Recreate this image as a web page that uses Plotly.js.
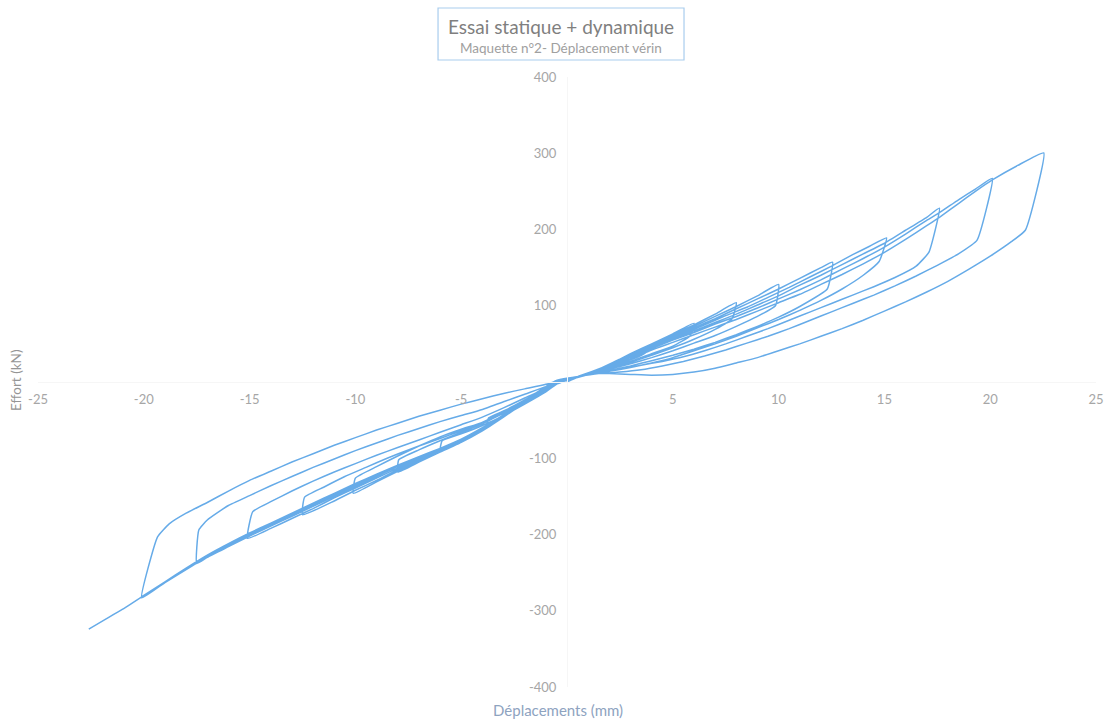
<!DOCTYPE html>
<html>
<head>
<meta charset="utf-8">
<script src="https://cdn.plot.ly/plotly-3.0.1.min.js"></script>
<style>
  html, body { margin: 0; padding: 0; background: #ffffff; }
  #chart { width: 1109px; height: 719px; }
</style>
</head>
<body>
<div id="chart"></div>
<script>
// Cyclic test, actuator displacement (mm) vs force (kN).
// Each cycle: loading to the positive peak, small drop, return through the
// pinch, loading to the negative peak, small unload.
const disp1 = [0, 0.5, 1.5, 2.5, 3, 3.8, 3.7, 3, 2, 1, 0.5, -0.5, -1, -2, -3, -3.8, -3.7];
const force1 = [0, 6, 17, 30, 36, 47, 38, 29, 20, 12, 7, 1, -9, -27, -45, -58, -47];

const disp2 = [-3, -2, -1, -0.5, 0.5, 1.5, 2.5, 3, 4, 5, 6, 5.8, 5, 4, 3, 2, 1, 0.5, -0.5, -1, -2, -3, -4, -5, -6, -5.9];
const force2 = [-38, -25, -11, -3, 7, 17, 30, 37, 50, 63, 77, 60, 47, 37, 27, 19, 12, 7, 1, -9, -27, -46, -64, -79, -91, -77];

const disp3 = [-5, -4, -3, -2, -1, -0.5, 0.5, 1.5, 2.5, 3, 4, 5, 6, 7, 8, 7.8, 7, 6, 5, 4, 3, 2, 1, 0.5, -0.5, -1, -2, -3, -4, -5, -6, -7, -8, -7.95];
const force3 = [-68, -57, -44, -29, -13, -3, 7, 17, 30, 37, 50, 62, 75, 89, 104, 83, 69, 56, 45, 35, 26, 18, 11, 7, 1, -9, -27, -46, -64, -79, -92, -105, -118, -102];

const disp4 = [-7, -6, -5, -4, -3, -2, -1, -0.5, 0.5, 1.5, 2.5, 3, 4, 5, 6, 7, 8, 9, 10, 9.85, 9, 8, 7, 6, 5, 4, 3, 2, 1, 0.5, -0.5, -1, -2, -3, -4, -5, -6, -7, -8, -9, -10.1, -10];
const force4 = [-89, -77, -66, -55, -41, -27, -12, -2, 7, 17, 30, 36, 48, 61, 73, 86, 99, 113, 128, 100, 86, 73, 61, 51, 41, 32, 24, 17, 11, 7, 1, -9, -27, -46, -64, -78, -91, -104, -117, -131, -146, -126];

const disp5 = [-9, -8, -7, -6, -5, -4, -3, -2, -1, -0.5, 0.5, 1.5, 2.5, 3, 4, 5, 6, 7, 8, 9, 10, 11, 12, 12.55, 12.3, 11, 10, 9, 8, 7, 6, 5, 4, 3, 2, 1, 0.5, -0.5, -1, -2, -3, -4, -5, -6, -7, -8, -9, -10, -11, -12.5, -12.4];
const force5 = [-111, -97, -84, -72, -62, -53, -40, -26, -11, 0, 7, 16, 29, 35, 47, 59, 71, 83, 96, 109, 122, 136, 150, 157, 122, 99, 85, 73, 62, 52, 43, 35, 28, 21, 15, 10, 7, 2, -8, -26, -45, -63, -78, -91, -103, -115, -129, -142, -156, -174, -151];

const disp6 = [-11.5, -10.5, -9.5, -8.5, -7.5, -6.5, -5.5, -4.5, -3.5, -2.5, -1.5, -0.5, 0.5, 1.5, 2.5, 3.5, 4.5, 5.5, 6.5, 7.5, 8.5, 9.5, 10.5, 11.5, 12.5, 13.5, 14.3, 15.1, 14.75, 14, 13, 12, 11, 10, 9, 8, 7, 6, 5, 4, 3, 2, 1, 0.5, -0.5, -1, -2, -3, -4, -5, -6, -7, -8, -9, -10, -11, -12, -13, -14, -15.1, -14.85];
const force6 = [-138, -124, -112, -100, -89, -79, -69, -59, -46, -31, -16, 0, 7, 16, 28, 40, 51, 63, 75, 87, 98, 111, 124, 138, 152, 167, 178, 189, 158, 140, 122, 107, 94, 82, 71, 60, 50, 41, 32, 25, 19, 14, 10, 7, 2, -8, -26, -45, -62, -77, -90, -101, -113, -126, -139, -152, -166, -179, -192, -205, -170];

const disp7 = [-14, -13, -12, -11, -10, -9, -8, -7, -6, -5, -4, -3, -2, -1, -0.5, 0.5, 1.5, 2.5, 3, 4, 5, 6, 7, 8, 9, 10, 11, 12, 13, 14, 15, 16, 17, 17.6, 17.1, 16.5, 15.5, 14.5, 13.5, 12.5, 11.5, 10.5, 9.5, 8.5, 7.5, 6.5, 5.5, 4.5, 3.5, 2.5, 1.5, 0.5, -0.5, -1, -2, -3, -4, -5, -6, -7, -8, -9, -10, -11, -12, -13, -14, -15, -16, -17, -17.5, -17.4];
const force7 = [-157, -143, -130, -118, -107, -96, -86, -76, -66, -56, -46, -34, -21, -8, 0, 7, 15, 27, 33, 45, 56, 67, 78, 89, 101, 113, 127, 140, 154, 168, 182, 199, 216, 228, 170, 152, 137, 125, 114, 103, 92, 81, 70, 60, 50, 41, 33, 27, 22, 17, 13, 7, 2, -7, -25, -44, -62, -77, -89, -100, -111, -124, -137, -150, -163, -176, -189, -202, -216, -230, -238, -194];

const disp8 = [-17, -16.5, -16, -15, -14, -13, -12, -11, -10, -9, -8, -7, -6, -5, -4, -3, -2, -1, -0.5, 0.5, 1.5, 2.5, 3, 4, 5, 6, 7, 8, 9, 10, 11, 12, 13, 14, 15, 16, 17, 17.6, 18.5, 19.3, 20.1, 19.38, 18.5, 17.5, 16.5, 15.5, 14.5, 13.5, 12.5, 11.5, 10.5, 9.5, 8.5, 7.5, 6.5, 5.5, 4.5, 3.5, 2.5, 1.5, 0.5, -0.5, -1, -2, -3, -4, -5, -6, -7, -8, -9, -10, -11, -12, -13, -14, -15, -16, -17, -18, -19, -20.1, -19.35];
const force8 = [-181, -171, -162, -149, -136, -124, -112, -101, -90, -80, -70, -61, -52, -44, -36, -26, -16, -6, 0, 6, 15, 26, 32, 44, 55, 65, 76, 86, 97, 109, 121, 134, 148, 162, 177, 194, 212, 222, 239, 253, 267, 186, 168, 153, 139, 126, 114, 103, 92, 81, 70, 60, 51, 42, 34, 27, 21, 16, 13, 11, 7, 2, -7, -25, -44, -61, -76, -88, -99, -110, -122, -135, -148, -161, -174, -187, -200, -214, -229, -246, -263, -283, -203];

const disp9 = [-18.8, -18, -17, -16, -15, -14, -13, -12, -11, -10, -9, -8, -7, -6, -5, -4, -3, -2, -1, -0.5, 0.5, 1.5, 2.5, 3, 4, 5, 6, 7, 8, 9, 10, 11, 12, 13, 14, 15, 16, 17, 17.6, 18.5, 19.3, 20.1, 21.3, 22.53, 21.66, 21, 20, 19, 18, 17, 16, 15, 14, 13, 12, 11, 10, 9, 8, 7, 6, 5, 4, 3, 2, 1.5, 0.5, -0.5, -1, -2, -3, -4, -5, -6, -7, -8, -9, -10, -11, -12, -13, -14, -15, -16, -17, -18, -19, -20, -21, -21.8, -22.6];
const force9 = [-186, -172, -158, -143, -129, -117, -105, -94, -83, -73, -63, -54, -45, -37, -29, -22, -15, -9, -3, 1, 6, 14, 24, 30, 42, 52, 62, 72, 82, 93, 104, 115, 128, 141, 155, 170, 187, 205, 216, 234, 250, 265, 284, 300.5, 199, 184, 165, 148, 132, 118, 105, 93, 81, 70, 60, 50, 41, 32, 25, 18, 13, 10, 9, 10, 11, 11, 7, 2, -6, -24, -43, -60, -75, -87, -98, -109, -121, -133, -146, -159, -172, -185, -198, -212, -227, -244, -262, -280, -298, -311, -324];

// Axis ticks (zero left unlabelled at the crossing)
const xTicks = [-25, -20, -15, -10, -5, 5, 10, 15, 20, 25];
const xTickText = ['-25', '-20', '-15', '-10', '-5', '5', '10', '15', '20', '25'];
const yTicks = [-400, -300, -200, -100, 100, 200, 300, 400];
const yTickText = ['-400', '-300', '-200', '-100', '100', '200', '300', '400'];

const dispCycles = [disp1, disp2, disp3, disp4, disp5, disp6, disp7, disp8, disp9];
const forceCycles = [force1, force2, force3, force4, force5, force6, force7, force8, force9];

const trace = {
  type: 'scatter',
  mode: 'lines',
  x: [].concat(...dispCycles),
  y: [].concat(...forceCycles),
  line: { color: '#66abe8', width: 1.5, shape: 'spline', smoothing: 0.4 },
  hoverinfo: 'x+y',
  showlegend: false
};

const FONT = 'Lato, "Open Sans", "DejaVu Sans", sans-serif';

const layout = {
  width: 1109,
  height: 719,
  margin: { l: 38, r: 13, t: 77, b: 32, pad: 0 },
  paper_bgcolor: '#ffffff',
  plot_bgcolor: '#ffffff',
  font: { family: FONT, color: '#a6a6a6', size: 12 },
  xaxis: {
    range: [-25, 25],
    anchor: 'free',
    position: 0.5,
    tickvals: xTicks,
    ticktext: xTickText,
    ticks: '',
    ticklabelstandoff: 5,
    tickfont: { family: FONT, size: 13, color: '#a6a6a6' },
    showgrid: false,
    zeroline: false,
    showline: true,
    linecolor: '#f6f6f6',
    linewidth: 1
  },
  yaxis: {
    range: [-400, 400],
    anchor: 'free',
    position: 0.5,
    tickvals: yTicks,
    ticktext: yTickText,
    ticks: '',
    ticklabelstandoff: 8,
    tickfont: { family: FONT, size: 13, color: '#a6a6a6' },
    showgrid: false,
    zeroline: false,
    showline: true,
    linecolor: '#f6f6f6',
    linewidth: 1
  },
  shapes: [
    // frame around the chart title block
    {
      type: 'rect',
      xref: 'paper', yref: 'paper',
      x0: 0.3781, x1: 0.6106,
      y0: 1.0279, y1: 1.1131,
      line: { color: '#a9cdee', width: 1.2 },
      fillcolor: 'rgba(0,0,0,0)'
    }
  ],
  annotations: [
    {
      xref: 'paper', yref: 'paper',
      x: 0.4943, y: 1.0820,
      xanchor: 'center', yanchor: 'middle',
      showarrow: false,
      text: 'Essai statique + dynamique',
      font: { family: FONT, size: 19, color: '#7f7f7f' }
    },
    {
      xref: 'paper', yref: 'paper',
      x: 0.4943, y: 1.0475,
      xanchor: 'center', yanchor: 'middle',
      showarrow: false,
      text: 'Maquette n°2- Déplacement vérin',
      font: { family: FONT, size: 13.5, color: '#a0a0a0' }
    },
    {
      xref: 'paper', yref: 'paper',
      x: -0.0208, y: 0.5033,
      xanchor: 'center', yanchor: 'middle',
      showarrow: false,
      textangle: -90,
      text: 'Effort (kN)',
      font: { family: FONT, size: 13.5, color: '#959595' }
    },
    {
      xref: 'paper', yref: 'paper',
      x: 0.4915, y: -0.0377,
      xanchor: 'center', yanchor: 'middle',
      showarrow: false,
      text: 'Déplacements (mm)',
      font: { family: FONT, size: 15, color: '#8ea3bf' }
    }
  ]
};

Plotly.newPlot('chart', [trace], layout, { staticPlot: true, displayModeBar: false });
</script>
</body>
</html>
